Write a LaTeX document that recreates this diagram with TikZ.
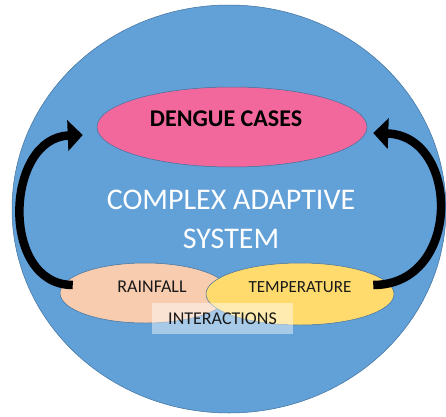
\documentclass[tikz,border=0pt]{standalone}
\usepackage{fontspec}
\setmainfont{Carlito}
\usetikzlibrary{calc,arrows.meta,shapes.geometric}
\definecolor{casblue}{RGB}{98,160,216}
\definecolor{casedge}{RGB}{65,113,156}
\definecolor{denguepink}{RGB}{243,104,156}
\definecolor{rainpeach}{RGB}{248,204,175}
\definecolor{tempyellow}{RGB}{255,219,110}
\definecolor{labelgrey}{RGB}{25,25,25}

\begin{document}
\begin{tikzpicture}[x=1pt,y=1pt,
	blob/.style={ellipse,draw=casedge,line width=0.5pt,inner sep=0pt},
	loop arrow/.style={line width=8.5pt,-{Triangle[width=30pt,length=15pt]}},
	caps/.style={font=\fontsize{18}{22}\selectfont,text=labelgrey}]
		\useasboundingbox (0,0) rectangle (446,416);
		% % the system as a whole
		\node[blob,fill=casblue,minimum width=434pt,minimum height=408pt] (system) at (229,207) {};
		\node[blob,fill=denguepink,minimum width=270pt,minimum height=80pt] (dengue) at (232,289) {};
		\node[blob,fill=rainpeach,minimum width=170pt,minimum height=60pt] (rain) at (145,123) {};
		\node[blob,fill=tempyellow,minimum width=188pt,minimum height=62pt] (temp) at (300,122) {};
		% % feedback arrows round the edge
		\coordinate (ltail) at ($(rain.west)+(13,8)$);
		\coordinate (lhead) at ($(dengue.west)+(-14,-8)$);
		\coordinate (rtail) at ($(temp.east)+(-21,9)$);
		\coordinate (rhead) at ($(dengue.east)+(6,-6)$);
		\draw[loop arrow] (ltail) .. controls +(-73,0) and +(-78,-3) .. (lhead);
		\draw[loop arrow] (rtail) .. controls +(89,0) and +(87,-3) .. (rhead);
		% % texts
		\node[fill=white,fill opacity=0.45,text opacity=1,minimum width=141pt,minimum height=31pt,inner sep=0pt,caps] (inter) at (222.5,97.5) {INTERACTIONS};
		\node[font=\fontsize{24}{28}\selectfont\bfseries] (denguetxt) at (226,297) {DENGUE CASES};
		\node[caps] (raintxt) at (152,129) {RAINFALL};
		\node[caps,font=\fontsize{17}{21}\selectfont] (temptxt) at (300,129) {TEMPERATURE};
		\node[font=\fontsize{30}{39}\selectfont,text=white,align=center] (castxt) at (231,196.5) {COMPLEX ADAPTIVE\\SYSTEM};
		\end{tikzpicture}
\end{document}
